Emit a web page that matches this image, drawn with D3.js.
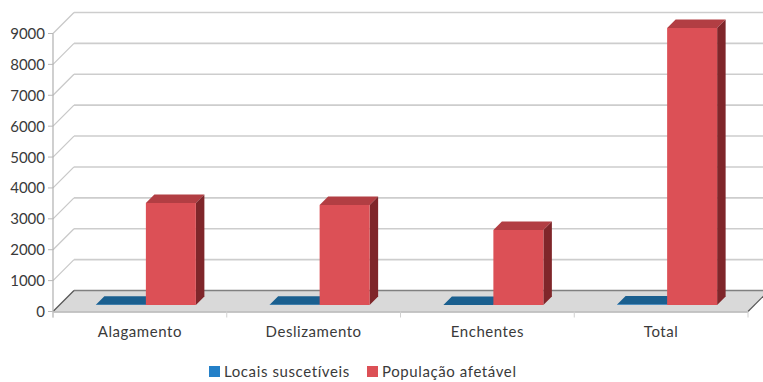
<!DOCTYPE html>
<html><head><meta charset="utf-8">
<script src="https://cdn.jsdelivr.net/npm/d3@7"></script>
<style>html,body{margin:0;padding:0;background:#fff}svg{display:block}text{font-family:"Lato",sans-serif;fill:#3a3a3a}</style>
</head><body><svg id="c" width="763" height="382"></svg>
<script>
const categories = ["Alagamento","Deslizamento","Enchentes","Total"];
const seriesNames = ["Locais suscetíveis","População afetável"];
const locais = [6, 5, 4, 15];
const populacao = [3300, 3240, 2430, 8970];
const yTicks = [0,1000,2000,3000,4000,5000,6000,7000,8000,9000];
const colors = ["#2480c8","#dc5056"];
const topColors = ["#1a5f8f","#b23e43"];
const sideColors = ["#134a70","#7f262a"];

const L=53,R=748,B=311.5,T=33.5,D=21,inset=6.5,bd=8.5,barShift=6.5;
const svg=d3.select("#c");
const y=d3.scaleLinear().domain([0,9000]).range([B,T]);
const x0=d3.scaleBand().domain(categories).range([L,R]);
const barW=50;
const x1=d3.scaleBand().domain(seriesNames).range([0,2*barW]);
const poly=(pts,fill,stroke)=>svg.append("polygon").attr("points",pts.map(p=>p.join(",")).join(" ")).attr("fill",fill).attr("stroke",stroke||"none");
const line=(a,b,c,w)=>svg.append("line").attr("x1",a[0]).attr("y1",a[1]).attr("x2",b[0]).attr("y2",b[1]).attr("stroke",c).attr("stroke-width",w);

yTicks.filter(t=>t>0).forEach(t=>{
  const v=y(t);
  line([L,v],[L+D,v-D],"#c8c8c8",1.2);
  line([L+D,v-D],[763,v-D],"#cdcdcd",1.6);
});
poly([[L,B],[L+D,B-D],[R+D,B-D],[R,B]],"#d9d9d9");
line([L+D,B-D],[763,B-D],"#808080",1.4);
line([L,B],[L+D,B-D],"#555",1.2);
line([R,B],[R+D,B-D],"#555",1.2);
line([L,B+.5],[R,B+.5],"#b4b4b4",1.6);
line([L,T],[L,B+6],"#b0b0b0",1.2);
yTicks.forEach(t=>{
  line([L-5,y(t)],[L,y(t)],"#b8b8b8",1);
  svg.append("text").attr("x",45).attr("y",y(t)+5.5).attr("text-anchor","end").attr("font-size",15).text(t);
});
categories.forEach((c,i)=>{
  const xl=x0(c);
  line([xl,B],[xl,B+6],"#d0d0d0",1);
  svg.append("text").attr("x",xl+x0.bandwidth()/2).attr("y",337).attr("text-anchor","middle").attr("font-size",15).attr("letter-spacing",0.55).text(c);
});
line([R,B],[R,B+6],"#d0d0d0",1);
const series=[locais,populacao];
categories.forEach((c,i)=>{
  seriesNames.forEach((s,j)=>{
    const x=x0(c)+x0.bandwidth()/2-barW+x1(s)-.5+barShift;
    const base=y(0)-inset;
    const top=base-(y(0)-y(series[j][i]));
    poly([[x,top],[x+bd,top-bd],[x+barW+bd,top-bd],[x+barW,top]],topColors[j]);
    poly([[x+barW,top],[x+barW+bd,top-bd],[x+barW+bd,base-bd],[x+barW,base]],sideColors[j]);
    poly([[x,top],[x+barW,top],[x+barW,base],[x,base]],colors[j]);
  });
});
const lx=[209,367], tx=[224,382];
seriesNames.forEach((s,j)=>{
  svg.append("rect").attr("x",lx[j]).attr("y",366).attr("width",11).attr("height",11).attr("fill",colors[j]);
  svg.append("text").attr("x",tx[j]).attr("y",377).attr("font-size",15).attr("letter-spacing",0.6).text(s);
});
</script></body></html>
